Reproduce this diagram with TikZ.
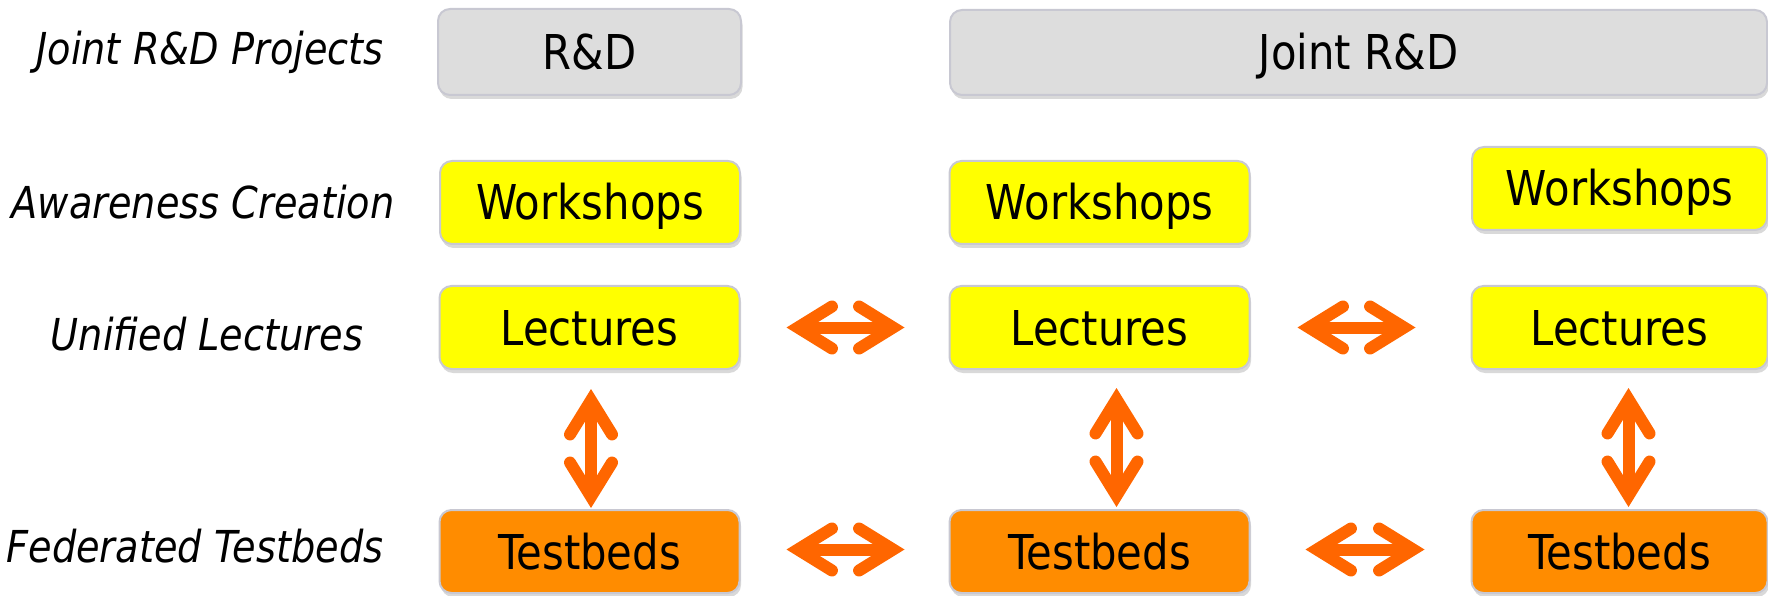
\documentclass[tikz,border=0pt]{standalone}
\usepackage{fontspec}
\setmainfont{DejaVu Sans}[FakeStretch=0.87,ItalicFont={DejaVu Sans Oblique}]
\usepackage{xcolor}
\usepackage{tikz}
\usetikzlibrary{shapes,arrows.meta,shadows}
\definecolor{boxgray}{RGB}{221,221,221}
\definecolor{boxyellow}{RGB}{255,255,0}
\definecolor{boxorange}{RGB}{255,140,0}
\definecolor{edgegray}{RGB}{200,200,210}
\definecolor{arroworange}{RGB}{255,102,0}
\tikzset{>={Straight Barb[length=34pt,width=42pt,line cap=round,line join=miter]}}
\tikzstyle{box} = [rectangle, rounded corners=12pt, draw=edgegray, line width=2pt, text centered, minimum width=300pt, minimum height=83pt, inner sep=0pt, text height=35pt, text depth=0pt, font=\fontsize{48}{56}\selectfont, drop shadow={shadow xshift=1.5pt, shadow yshift=-4pt, opacity=0.3}]
\tikzstyle{rnd} = [box, fill=boxgray]
\tikzstyle{yel} = [box, fill=boxyellow]
\tikzstyle{tbed} = [box, fill=boxorange]
\tikzstyle{rowlabel} = [inner sep=0pt, text height=32pt, text depth=0pt, font=\fontsize{44}{52}\selectfont\itshape]
\tikzstyle{twoway} = [draw=arroworange, line width=12pt, <->]

\begin{document}
\begin{tikzpicture}[x=1pt,y=1pt]
\useasboundingbox (0,0) rectangle (1768,595);
\node [rowlabel] (lblrd) at (210,546) {Joint R\&D Projects};
\node [rowlabel] (lblws) at (203,392.5) {Awareness Creation};
\node [rowlabel] (lbllec) at (207,261) {Unified Lectures};
\node [rowlabel] (lbltb) at (195,48.5) {Federated Testbeds};
\node [rnd, minimum width=303pt, minimum height=86pt] (rd) at (589.5,543) {R\&D};
\node [rnd, minimum width=817pt, minimum height=85pt] (jrd) at (1358.5,542.5) {Joint R\&D};
\node [yel] (ws1) at (590,392.5) {Workshops};
\node [yel] (ws2) at (1099.5,392.5) {Workshops};
\node [yel, minimum width=295pt] (ws3) at (1619.5,406.5) {Workshops};
\node [yel] (lec1) at (589.5,267.5) {Lectures};
\node [yel] (lec2) at (1099.5,267.5) {Lectures};
\node [yel, minimum width=296pt] (lec3) at (1619.5,267.5) {Lectures};
\node [tbed] (tb1) at (589.5,43.5) {Testbeds};
\node [tbed] (tb2) at (1099.5,43.5) {Testbeds};
\node [tbed, minimum width=296pt] (tb3) at (1619.5,43.5) {Testbeds};
\path [twoway, shorten <=46pt, shorten >=44pt] (lec1.east) -- (lec2.west);
\path [twoway, shorten <=47pt, shorten >=55pt] (lec2.east) -- (lec3.west);
\path [twoway, shorten <=46pt, shorten >=44pt] ([yshift=2pt]tb1.east) -- ([yshift=2pt]tb2.west);
\path [twoway, shorten <=55pt, shorten >=46pt] ([yshift=2pt]tb2.east) -- ([yshift=2pt]tb3.west);
\path [twoway, shorten <=19pt, shorten >=1pt] ([xshift=1.5pt]lec1.south) -- ([xshift=1.5pt]tb1.north);
\path [twoway, shorten <=18pt, shorten >=2pt] ([xshift=17pt]lec2.south) -- ([xshift=17pt]tb2.north);
\path [twoway, shorten <=18pt, shorten >=2pt] ([xshift=9pt]lec3.south) -- ([xshift=9pt]tb3.north);
\end{tikzpicture}
\end{document}
